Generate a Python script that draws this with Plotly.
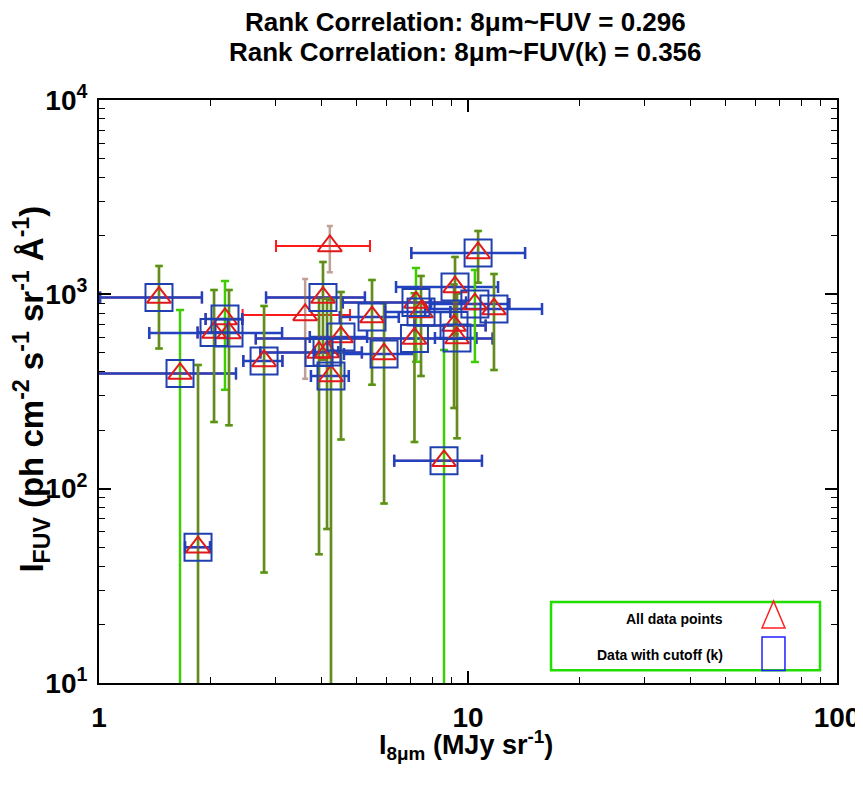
import plotly.graph_objects as go

# all data points: I_8um (MJy sr^-1) vs I_FUV (ph cm^-2 s^-1 sr^-1 A^-1)
fir_all = [1.454, 1.658, 1.855, 2.050, 2.195, 2.251, 2.801, 3.620, 3.947, 4.046, 4.149, 4.222, 4.253,
           4.527, 5.494, 5.922, 7.160, 7.228, 7.459, 8.610, 9.165, 9.222, 9.337, 10.44, 10.65, 11.76]
fir_err_all = [0.447, 0.693, 0.144, 0.20, 0.25, 0.883, 0.34, 1.17, 1.21, 1.21, 0.30, 1.204, 0.50,
               0.80, 1.00, 1.31, 4.50, 2.65, 1.50, 2.30, 2.00, 2.84, 1.20, 2.50, 3.63, 4.11]
fuv_all = [963, 391, 50, 636, 747, 632, 454, 783, 502, 963, 505, 1773, 380,
           603, 764, 493, 593, 908, 811, 139, 691, 1090, 596, 891, 1632, 840]
fuv_err_all = [436, None, 383, 416, None, 420, 417, 415, 456, 503, 443, 473, 555,
               424, 421, 409, 419, None, 431, None, 431, 466, 414, None, 485, 432]

# data with cutoff (k)
fir_k = [1.454, 1.658, 1.855, 2.050, 2.195, 2.251, 2.801, 3.947, 4.046, 4.149, 4.253, 4.527,
         5.494, 5.922, 7.160, 7.228, 7.459, 8.610, 9.165, 9.222, 9.337, 10.44, 10.65, 11.76]
fir_err_k = [0.447, 0.693, 0.144, 0.20, 0.25, 0.883, 0.34, 1.21, 1.21, 0.30, 0.50, 0.80,
             1.00, 1.31, 4.50, 2.65, 1.50, 2.30, 2.00, 2.84, 1.20, 2.50, 3.63, 4.11]
fuv_k = [963, 391, 50, 636, 747, 632, 454, 502, 963, 505, 380, 603,
         764, 493, 593, 908, 811, 139, 691, 1090, 596, 891, 1632, 840]
fuv_err_k = [436, 440, 383, 416, 424, 420, 417, 456, 503, 443, 555, 424,
             421, 409, 419, 458, 431, 378, 431, 466, 414, 443, 485, 432]

rank_all = 0.296
rank_k = 0.356

FONT = "Liberation Sans, Arial, sans-serif"
hidden = dict(color="rgba(0,0,0,0)", size=1)

fig = go.Figure()

# x errors: all data (red) under cutoff (blue)
fig.add_trace(go.Scatter(
    x=fir_all, y=fuv_all, mode="markers", marker=hidden, showlegend=False, hoverinfo="skip",
    error_x=dict(type="data", array=fir_err_all, color="#ff1a1a", thickness=2, width=6),
))
fig.add_trace(go.Scatter(
    x=fir_k, y=fuv_k, mode="markers", marker=hidden, showlegend=False, hoverinfo="skip",
    error_x=dict(type="data", array=fir_err_k, color="#2342c0", thickness=2.5, width=6),
    error_y=dict(type="data", array=fuv_err_k, color="#3fcc00", thickness=2.5, width=4),
))
# y errors of all data, semi transparent on top of the green ones
fig.add_trace(go.Scatter(
    x=fir_all, y=fuv_all, mode="markers", marker=hidden, showlegend=False, hoverinfo="skip",
    error_y=dict(type="data", array=fuv_err_all, color="rgba(140,80,60,0.55)", thickness=2.5, width=3),
))

fig.add_trace(go.Scatter(
    x=fir_all, y=fuv_all, mode="markers", name="All data points", showlegend=False,
    marker=dict(symbol="triangle-up-open", size=21, color="#e01a1a", line=dict(width=2)),
))
fig.add_trace(go.Scatter(
    x=fir_k, y=fuv_k, mode="markers", name="Data with cutoff (k)", showlegend=False,
    marker=dict(symbol="square-open", size=27, color="#2140b0", line=dict(width=2)),
))

axis_common = dict(
    type="log", showline=True, linecolor="black", linewidth=2, mirror="ticks", automargin=False,
    ticks="inside", ticklen=12, tickwidth=1.5, tickcolor="black", showgrid=False, zeroline=False,
    tickfont=dict(family=FONT, size=28, color="black", weight="bold"),
)

fig.update_xaxes(
    **axis_common,
    range=[0, 2],
    tickvals=[1, 10, 100], ticktext=["1", "10", "100"],
    minor=dict(ticks="inside", ticklen=6, tickwidth=1, tickcolor="black",
               tickvals=[m * d for d in (1, 10) for m in range(2, 10)]),
    ticklabelstandoff=8,
)
fig.update_yaxes(
    **axis_common,
    range=[1, 4],
    tickvals=[10, 100, 1000, 10000],
    ticktext=["10<sup>1</sup>", "10<sup>2</sup>", "10<sup>3</sup>", "10<sup>4</sup>"],
    minor=dict(ticks="inside", ticklen=6, tickwidth=1, tickcolor="black",
               tickvals=[m * d for d in (10, 100, 1000) for m in range(2, 10)]),
    ticklabelstandoff=4,
)

# legend drawn by hand: text on the left, symbol on the right, green frame
legend_shapes = [
    dict(type="rect", xref="paper", yref="paper", x0=0.6125, x1=0.977, y0=0.022, y1=0.139,
         line=dict(color="#22dd00", width=2.5), fillcolor="white", layer="above"),
    dict(type="path", xref="paper", yref="paper", path="M 0.8984 0.0943 L 0.9295 0.0943 L 0.914 0.1407 Z",
         line=dict(color="#ff2020", width=1.5), layer="above"),
    dict(type="rect", xref="paper", yref="paper", x0=0.8984, x1=0.9295, y0=0.0215, y1=0.0789,
         line=dict(color="#2020ff", width=1.5), layer="above"),
]

texts = [
    # titles
    dict(text=f"Rank Correlation: 8μm~FUV = {rank_all:.3f}", x=0.497, y=1.1338, size=26),
    dict(text=f"Rank Correlation: 8μm~FUV(k) = {rank_k:.3f}", x=0.497, y=1.0823, size=26),
    # axis titles
    dict(text="I<sub>8μm</sub> (MJy sr<sup>-1</sup>)", x=0.497, y=-0.106, size=27),
    dict(text="I<sub>FUV</sub> (ph cm<sup>-2</sup> s<sup>-1</sup> sr<sup>-1</sup> Å<sup>-1</sup>)",
         x=-0.0908, y=0.505, size=33, angle=-90),
]
annotations = [dict(text=t["text"], x=t["x"], y=t["y"], xref="paper", yref="paper",
                    xanchor="center", yanchor="middle", showarrow=False, textangle=t.get("angle", 0),
                    font=dict(family=FONT, size=t["size"], color="black", weight="bold"))
               for t in texts]
for label, ypos in [("All data points", 0.110), ("Data with cutoff (k)", 0.048)]:
    annotations.append(dict(text=label, x=0.848, y=ypos, xref="paper", yref="paper",
                            xanchor="right", yanchor="middle", showarrow=False,
                            font=dict(family=FONT, size=14, color="black", weight="bold")))

# the page puts the figure 8px in from the corner (and 8px below), so keep it inside the window
fig.update_layout(
    width=855, height=782,
    margin=dict(l=91, r=26, t=92, b=107),
    plot_bgcolor="white", paper_bgcolor="white",
    shapes=legend_shapes,
    annotations=annotations,
    showlegend=False,
)

fig.write_html("out.html")
